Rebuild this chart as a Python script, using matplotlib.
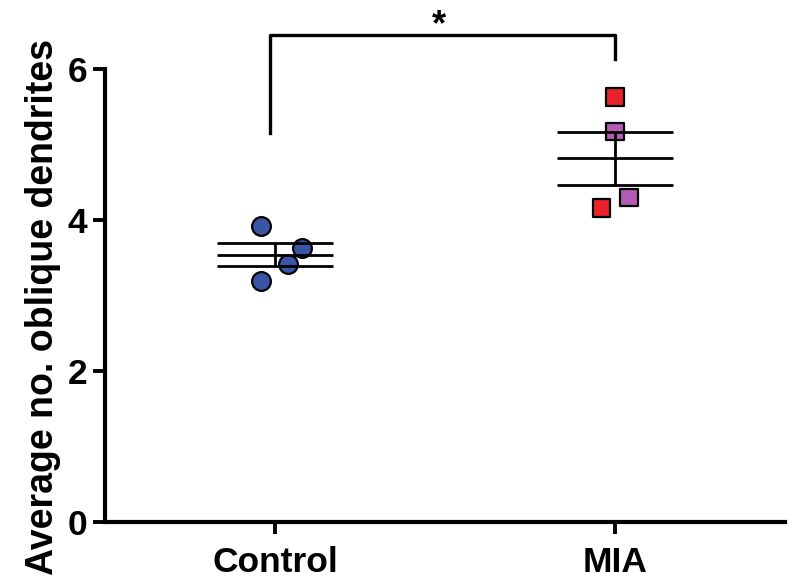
import numpy as np
import matplotlib
matplotlib.use("Agg")
import matplotlib.pyplot as plt

plt.rcParams['font.family'] = ['Liberation Sans', 'DejaVu Sans']
plt.rcParams['font.weight'] = 'bold'

groups = ["Control", "MIA"]
control_vals = [3.92, 3.19, 3.42, 3.63]
control_jitter = [-0.041, -0.041, 0.038, 0.079]
mia_vals = [5.63, 5.17, 4.30, 4.16]
mia_jitter = [0.0, 0.0, 0.041, -0.039]
mia_colors = ["#e8232b", "#b35cb3", "#b35cb3", "#e8232b"]
control_color = "#3a55a6"
yticks = [0, 2, 4, 6]
sig_label = "*"

fig = plt.figure(figsize=(7.96, 5.87), dpi=100)
ax = fig.add_axes([105/796, 1-522/587, 680/796, 453/587])

# markers
ax.scatter(np.array(control_jitter) + 0, control_vals, s=13.5**2, marker='o',
           facecolor=control_color, edgecolor='black', linewidth=1.6, zorder=2)
ax.scatter(np.array(mia_jitter) + 1, mia_vals, s=12.5**2, marker='s',
           facecolor=mia_colors, edgecolor='black', linewidth=1.6, zorder=2)

# mean +/- SEM
half = 0.17
for pos, vals in [(0, control_vals), (1, mia_vals)]:
    v = np.array(vals)
    m = v.mean()
    sem = v.std(ddof=1) / np.sqrt(len(v))
    for yy in (m - sem, m, m + sem):
        ax.plot([pos - half, pos + half], [yy, yy], color='black', lw=2, zorder=3,
                solid_capstyle='butt')
    ax.plot([pos, pos], [m - sem, m + sem], color='black', lw=2, zorder=3,
            solid_capstyle='butt')

# significance bracket
ax.plot([-0.015, -0.015, 1.0, 1.0], [5.15, 6.45, 6.45, 6.13], color='black', lw=2.4,
        clip_on=False, zorder=3)
ax.text(0.483, 6.58, sig_label, ha='center', va='center', fontsize=26, fontweight='bold')

ax.set_xlim(-0.5, 1.5)
ax.set_ylim(0, 6)
ax.set_xticks([0, 1])
ax.set_xticklabels(groups)
ax.set_yticks(yticks)
ax.set_yticklabels([str(t) for t in yticks])

for s in ['top', 'right']:
    ax.spines[s].set_visible(False)
for s in ['left', 'bottom']:
    ax.spines[s].set_linewidth(3)
ax.tick_params(axis='both', length=8.5, width=2.8, labelsize=25.5, direction='out')
ax.tick_params(axis='x', pad=9)
ax.tick_params(axis='y', pad=4)
for lab in ax.get_xticklabels() + ax.get_yticklabels():
    lab.set_fontweight('bold')

fig.text(43/796, 1-307/587, "Average no. oblique dendrites", rotation=90,
         ha='center', va='center', fontsize=27, fontweight='bold')

fig.savefig("out.png", dpi=100)
